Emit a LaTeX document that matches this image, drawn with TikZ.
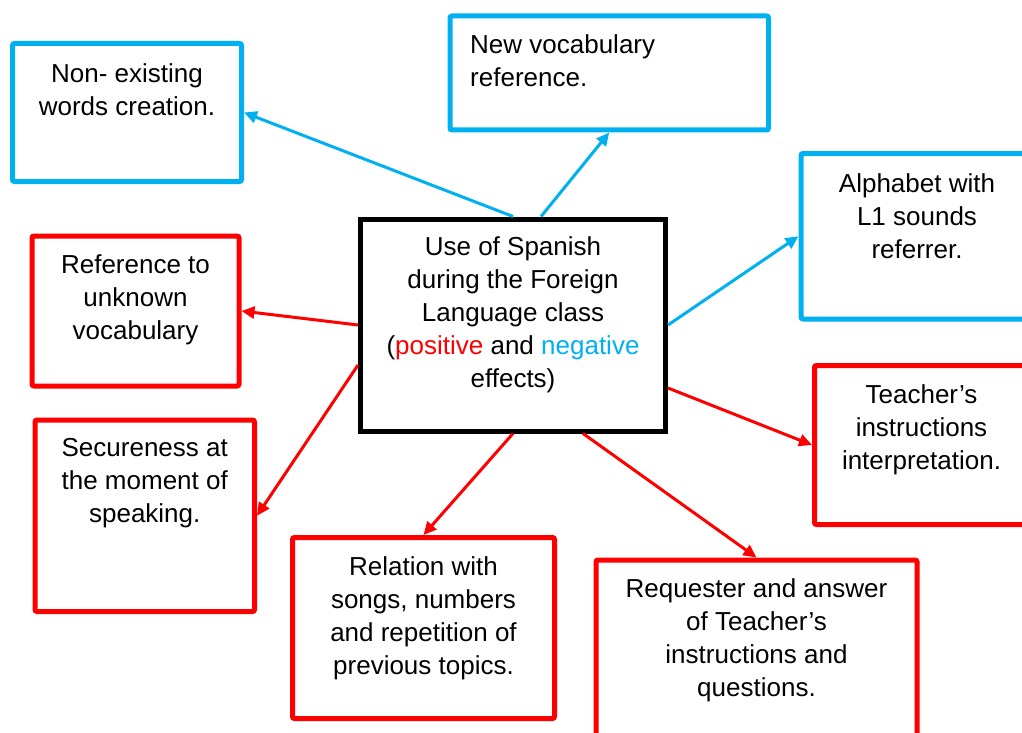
\documentclass[tikz,border=0pt]{standalone}
\usepackage{fontspec}
\setmainfont{Liberation Sans}
\usepackage{xcolor}
\usepackage{tikz}
\usetikzlibrary{arrows.meta,positioning}
\definecolor{ssblue}{HTML}{00B0F0}
\definecolor{ssred}{HTML}{FF0000}
\tikzset{
  bluebox/.style={rectangle, rounded corners=2pt, draw=ssblue, line width=5pt,
                  anchor=north west, inner sep=0pt},
  redbox/.style={rectangle, rounded corners=2pt, draw=ssred, line width=5pt,
                 anchor=north west, inner sep=0pt},
  mainbox/.style={rectangle, draw=black, line width=5pt,
                  anchor=north west, inner sep=0pt},
  txt/.style={align=center, inner sep=0pt, font=\fontsize{26}{33}\selectfont},
  bluear/.style={-{Triangle[length=13pt,width=12pt]}, draw=ssblue, line width=3pt},
  redar/.style={-{Triangle[length=13pt,width=12pt]}, draw=ssred, line width=3pt},
}

\begin{document}
\begin{tikzpicture}[x=1pt,y=-1pt]
\useasboundingbox (0,0) rectangle (1022,733);
\clip (0,0) rectangle (1022,733);

% ---------- central box ----------
\node[mainbox,minimum width=305pt,minimum height=212pt] (main) at (358,216.5) {};
\node[txt,below=19.5pt of main.north] (mainT)
  {Use of Spanish\\during the Foreign\\Language class\\(\textcolor{ssred}{positive} and \textcolor{ssblue}{negative}\\effects)};

% ---------- negative effects ----------
\node[bluebox,minimum width=229pt,minimum height=138pt] (nonex) at (10,41) {};
\node[txt,below=22.5pt of nonex.north] (nonexT) {Non- existing\\words creation.};

\node[bluebox,minimum width=318.5pt,minimum height=114pt] (newvoc) at (447.5,13.5) {};
\node[txt,align=left,below right=20.5pt and 22.5pt of newvoc.north west] (newvocT)
  {New vocabulary\\reference.};

\node[bluebox,minimum width=232pt,minimum height=165.5pt] (alph) at (798.5,151) {};
\node[txt,below=22.5pt of alph.north] (alphT) {Alphabet with\\L1 sounds\\referrer.};

% ---------- positive effects ----------
\node[redbox,minimum width=207pt,minimum height=150pt] (refunk) at (29.5,233.5) {};
\node[txt,below=20.5pt of refunk.north] (refunkT) {Reference to\\unknown\\vocabulary};

\node[redbox,minimum width=219.5pt,minimum height=191.5pt] (secure) at (32.5,417.5) {};
\node[txt,below=20.5pt of secure.north] (secureT) {Secureness at\\the moment of\\speaking.};

\node[redbox,minimum width=214pt,minimum height=159pt] (teach) at (812,363) {};
\node[txt,below=21.5pt of teach.north] (teachT) {Teacher’s\\instructions\\interpretation.};

\node[redbox,minimum width=262pt,minimum height=181pt] (relat) at (290,535) {};
\node[txt,below=21.5pt of relat.north] (relatT)
  {Relation with\\songs, numbers\\and repetition of\\previous topics.};

\node[redbox,minimum width=321pt,minimum height=200pt] (reqst) at (593.5,557.5) {};
\node[txt,below=20.5pt of reqst.north] (reqstT)
  {Requester and answer\\of Teacher’s\\instructions and\\questions.};

% ---------- connectors ----------
\draw[bluear] (main.north) -- (nonex.east);
\draw[bluear] ([xshift=28pt]main.north) -- (newvoc.south);
\draw[bluear] (main.east) -- (alph.west);

\draw[redar] (main.west) -- (refunk.east);
\draw[redar] ([yshift=-40pt]main.west) -- (secure.east);
\draw[redar] (main.south) -- (relat.north);
\draw[redar] ([xshift=70pt]main.south) -- (reqst.north);
\draw[redar] ([yshift=-63pt]main.east) -- (teach.west);
\end{tikzpicture}
\end{document}
